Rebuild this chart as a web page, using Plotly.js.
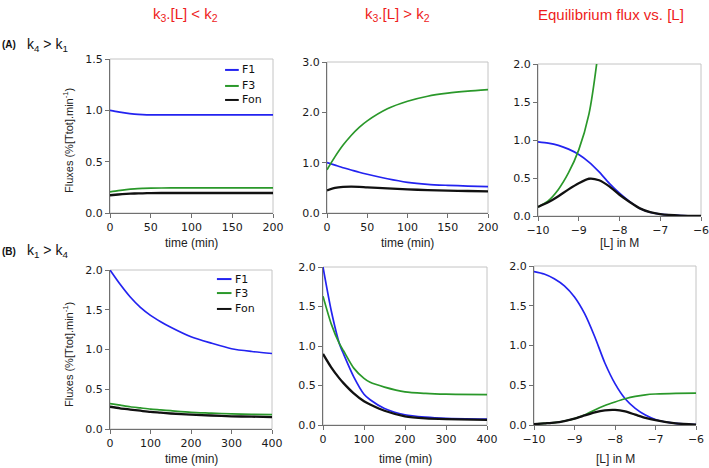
<!DOCTYPE html>
<html>
<head>
<meta charset="utf-8">
<script src="https://cdn.plot.ly/plotly-3.0.1.min.js"></script>
<style>html,body{margin:0;padding:0;background:#fff;} #chart{width:709px;height:468px;}</style>
</head>
<body>
<div id="chart"></div>
<script>
// ---------- DATA ----------
const tA = [0, 10, 20, 30, 40, 50, 75, 100, 125, 150, 175, 200];
const a1_F1  = [1.00, 0.985, 0.972, 0.964, 0.959, 0.956, 0.955, 0.955, 0.955, 0.955, 0.955, 0.955];
const a1_F3  = [0.205, 0.218, 0.228, 0.235, 0.239, 0.242, 0.244, 0.244, 0.244, 0.244, 0.244, 0.244];
const a1_Fon = [0.173, 0.180, 0.186, 0.190, 0.192, 0.194, 0.195, 0.195, 0.195, 0.195, 0.195, 0.195];

const a2_F1  = [1.00, 0.95, 0.90, 0.855, 0.81, 0.77, 0.68, 0.61, 0.57, 0.55, 0.535, 0.525];
const a2_F3  = [0.86, 1.12, 1.35, 1.54, 1.70, 1.83, 2.07, 2.22, 2.32, 2.38, 2.42, 2.45];
const a2_Fon = [0.45, 0.50, 0.52, 0.525, 0.52, 0.51, 0.49, 0.47, 0.455, 0.445, 0.437, 0.43];

const logL = [-10, -9.75, -9.5, -9.25, -9, -8.75, -8.5, -8.25, -8, -7.75, -7.5, -7.25, -7, -6.5, -6];
const a3_F1  = [0.976, 0.96, 0.93, 0.88, 0.81, 0.71, 0.58, 0.43, 0.30, 0.19, 0.10, 0.05, 0.025, 0.006, 0.001];
const a3_F3  = [0.12, 0.20, 0.35, 0.57, 0.87, 1.34, 2.26, 3.6, null, null, null, null, null, null, null];
const a3_Fon = [0.12, 0.18, 0.26, 0.35, 0.43, 0.49, 0.47, 0.39, 0.28, 0.185, 0.10, 0.05, 0.025, 0.006, 0.001];

const tB1 = [0, 25, 50, 75, 100, 125, 150, 200, 250, 300, 350, 400];
const b1_F1  = [2.00, 1.82, 1.66, 1.53, 1.43, 1.35, 1.28, 1.16, 1.08, 1.01, 0.975, 0.95];
const b1_F3  = [0.32, 0.30, 0.28, 0.265, 0.25, 0.24, 0.23, 0.21, 0.20, 0.19, 0.185, 0.18];
const b1_Fon = [0.28, 0.26, 0.245, 0.23, 0.215, 0.205, 0.195, 0.18, 0.17, 0.16, 0.155, 0.15];

const tB2 = [0, 20, 40, 50, 75, 100, 115, 150, 200, 250, 300, 400];
const b2_F1  = [2.00, 1.45, 1.03, 0.90, 0.61, 0.39, 0.32, 0.21, 0.13, 0.10, 0.085, 0.075];
const b2_F3  = [1.63, 1.28, 1.03, 0.94, 0.72, 0.59, 0.54, 0.48, 0.42, 0.40, 0.39, 0.385];
const b2_Fon = [0.90, 0.73, 0.59, 0.53, 0.40, 0.30, 0.26, 0.18, 0.11, 0.085, 0.075, 0.065];

const b3_F1  = [1.93, 1.90, 1.84, 1.75, 1.61, 1.40, 1.11, 0.78, 0.52, 0.33, 0.21, 0.125, 0.07, 0.02, 0.005];
const b3_F3  = [0.01, 0.02, 0.03, 0.05, 0.08, 0.125, 0.19, 0.245, 0.29, 0.33, 0.36, 0.38, 0.39, 0.398, 0.40];
const b3_Fon = [0.01, 0.02, 0.03, 0.05, 0.08, 0.12, 0.16, 0.185, 0.19, 0.17, 0.13, 0.09, 0.06, 0.02, 0.005];

const seriesNames = ['F1', 'F3', 'Fon'];
const headers = ['k<sub>3</sub>.[L] &lt; k<sub>2</sub>', 'k<sub>3</sub>.[L] &gt; k<sub>2</sub>', 'Equilibrium flux vs. [L]'];
const rowLabels = ['(A)', '(B)'];
const rowConds = ['k<sub>4</sub> &gt; k<sub>1</sub>', 'k<sub>1</sub> &gt; k<sub>4</sub>'];
const xTitles = ['time (min)', 'time (min)', '[L] in M'];
const yTitle = 'Fluxes (%[Ttot].min<sup>-1</sup>)';

// ---------- STYLE ----------
const W = 709, H = 468;
const colors = ['#2323f0', '#2a982a', '#111111'];
const widths = [1.7, 1.7, 2.3];
const px = v => v / W;
const py = v => 1 - v / H;

const panels = [
  {x: tA,   ys: [a1_F1, a1_F3, a1_Fon], xr: [0, 200], xd: 50, yr: [0, 1.5], yd: 0.5, box: [110, 273, 59, 213], legend: true, legPos: [0.706, 0.79, 0.80, [0.929, 0.825, 0.734]]},
  {x: tA,   ys: [a2_F1, a2_F3, a2_Fon], xr: [0, 200], xd: 50, yr: [0, 3], yd: 1, box: [327, 488, 62, 213]},
  {x: logL, ys: [a3_F1, a3_F3, a3_Fon], xr: [-10, -6], xd: 1, yr: [0, 2], yd: 0.5, box: [538, 701, 64, 216]},
  {x: tB1,  ys: [b1_F1, b1_F3, b1_Fon], xr: [0, 400], xd: 100, yr: [0, 2], yd: 0.5, box: [110, 272, 270, 429], legend: true, legPos: [0.66, 0.75, 0.757, [0.943, 0.855, 0.755]]},
  {x: tB2,  ys: [b2_F1, b2_F3, b2_Fon], xr: [0, 400], xd: 100, yr: [0, 2], yd: 0.5, box: [323, 487, 267, 425]},
  {x: logL, ys: [b3_F1, b3_F3, b3_Fon], xr: [-10, -6], xd: 1, yr: [0, 2], yd: 0.5, box: [534, 696, 266, 425]}
];

const tickFont = {family: 'DejaVu Sans, Verdana, sans-serif', size: 11, color: '#1a1a1a'};
const titleFont = {family: 'Liberation Sans, Arial, sans-serif', size: 12, color: '#222'};

const data = [];
const layout = {
  width: W, height: H,
  margin: {l: 0, r: 0, t: 0, b: 0},
  paper_bgcolor: '#fff', plot_bgcolor: '#fff',
  showlegend: false,
  annotations: [], shapes: []
};

panels.forEach((p, i) => {
  const n = i + 1;
  const xa = 'x' + (n === 1 ? '' : n);
  const ya = 'y' + (n === 1 ? '' : n);
  p.ys.forEach((ys, k) => {
    data.push({
      x: p.x, y: ys, xaxis: xa, yaxis: ya, type: 'scatter', mode: 'lines',
      name: seriesNames[k],
      line: {color: colors[k], width: widths[k], shape: 'spline', smoothing: 0.7},
      hoverinfo: 'skip'
    });
  });
  const [l, r, t, b] = p.box;
  const axBase = {
    showgrid: false, zeroline: false, showline: true, linecolor: '#707070', linewidth: 1,
    ticks: 'outside', ticklen: 4, tickwidth: 1, tickcolor: '#707070',
    tickfont: tickFont, fixedrange: true, ticklabeloverflow: 'allow'
  };
  layout['xaxis' + (n === 1 ? '' : n)] = Object.assign({}, axBase, {
    domain: [px(l), px(r)], anchor: ya, range: p.xr, tickmode: 'linear', tick0: p.xr[0], dtick: p.xd
  });
  layout['yaxis' + (n === 1 ? '' : n)] = Object.assign({}, axBase, {
    domain: [py(b), py(t)], anchor: xa, range: p.yr, tickmode: 'linear', tick0: 0, dtick: p.yd,
    tickformat: '.1f'
  });
  // light plot frame (top/right)
  layout.shapes.push({type: 'rect', xref: xa + ' domain', yref: ya + ' domain', x0: 0, x1: 1, y0: 0, y1: 1,
    line: {color: '#c4c4c4', width: 1}, layer: 'below'});
  // x title
  const col = i % 3;
  const row = Math.floor(i / 3);
  layout.annotations.push({text: xTitles[col], xref: 'paper', yref: 'paper',
    x: px((l + r) / 2), y: py(row === 0 ? 243 : 459), xanchor: 'center', yanchor: 'middle',
    showarrow: false, font: titleFont});
  // legend
  if (p.legend) {
    const [x0, x1, xt, yy] = p.legPos;
    seriesNames.forEach((nm, k) => {
      layout.shapes.push({type: 'line', xref: xa + ' domain', yref: ya + ' domain',
        x0: x0, x1: x1, y0: yy[k], y1: yy[k], line: {color: colors[k], width: 2}});
      layout.annotations.push({text: nm, xref: xa + ' domain', yref: ya + ' domain',
        x: xt, y: yy[k], xanchor: 'left', yanchor: 'middle', showarrow: false,
        font: {family: 'DejaVu Sans, Verdana, sans-serif', size: 11, color: '#111'}});
    });
  }
});

// column headers
const headerX = [185, 397, 611];
headers.forEach((h, c) => {
  layout.annotations.push({text: h, xref: 'paper', yref: 'paper', x: px(headerX[c]), y: py(15),
    xanchor: 'center', yanchor: 'middle', showarrow: false,
    font: {family: 'Liberation Sans, Arial, sans-serif', size: 15, color: '#ee1c1c'}});
});

// row labels
const rowY = [45, 251];
rowLabels.forEach((lab, r) => {
  layout.annotations.push({text: '<b>' + lab + '</b>', xref: 'paper', yref: 'paper', x: 0, y: py(rowY[r]),
    xanchor: 'left', yanchor: 'middle', showarrow: false,
    font: {family: 'Liberation Sans, Arial, sans-serif', size: 10, color: '#111'}});
  layout.annotations.push({text: rowConds[r], xref: 'paper', yref: 'paper', x: px(25), y: py(rowY[r]),
    xanchor: 'left', yanchor: 'middle', showarrow: false,
    font: {family: 'Liberation Sans, Arial, sans-serif', size: 14, color: '#111'}});
  // y title
  layout.annotations.push({text: yTitle, xref: 'paper', yref: 'paper', x: px(68), y: py(r === 0 ? 141 : 355),
    xanchor: 'center', yanchor: 'middle', textangle: -90, showarrow: false,
    font: {family: 'Liberation Sans, Arial, sans-serif', size: 11, color: '#222'}});
});

Plotly.newPlot('chart', data, layout, {staticPlot: true, displayModeBar: false});
</script>
</body>
</html>
